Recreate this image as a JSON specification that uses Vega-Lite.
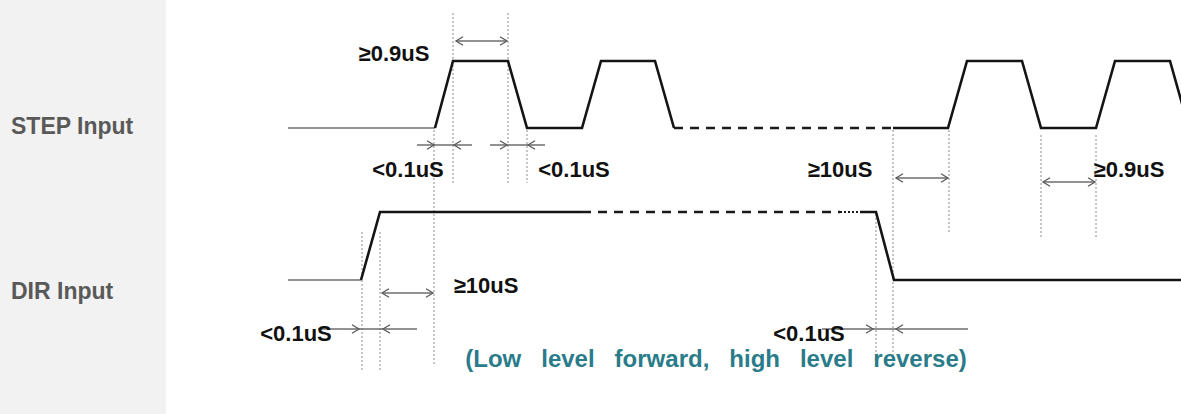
{
  "$schema": "https://vega.github.io/schema/vega-lite/v6.json",
  "width": 1181,
  "height": 414,
  "autosize": "none",
  "padding": 0,
  "background": "white",
  "config": {"view": {"stroke": null}},
  "datasets": {
    "panel": [{"x": 0, "x2": 166, "y": 0, "y2": 414}],
    "wave": [
      {"seg": "s1", "o": 1, "x": 435, "y": 128},
      {"seg": "s1", "o": 2, "x": 453, "y": 61},
      {"seg": "s1", "o": 3, "x": 508, "y": 61},
      {"seg": "s1", "o": 4, "x": 527, "y": 128},
      {"seg": "s1", "o": 5, "x": 582, "y": 128},
      {"seg": "s1", "o": 6, "x": 601, "y": 61},
      {"seg": "s1", "o": 7, "x": 655, "y": 61},
      {"seg": "s1", "o": 8, "x": 674, "y": 128},
      {"seg": "s2", "o": 1, "x": 893, "y": 128},
      {"seg": "s2", "o": 2, "x": 948, "y": 128},
      {"seg": "s2", "o": 3, "x": 967, "y": 61},
      {"seg": "s2", "o": 4, "x": 1022, "y": 61},
      {"seg": "s2", "o": 5, "x": 1041, "y": 128},
      {"seg": "s2", "o": 6, "x": 1096, "y": 128},
      {"seg": "s2", "o": 7, "x": 1115, "y": 61},
      {"seg": "s2", "o": 8, "x": 1170, "y": 61},
      {"seg": "s2", "o": 9, "x": 1183, "y": 107},
      {"seg": "d1", "o": 1, "x": 361, "y": 280},
      {"seg": "d1", "o": 2, "x": 380, "y": 212},
      {"seg": "d1", "o": 3, "x": 582, "y": 212},
      {"seg": "d2", "o": 1, "x": 860, "y": 212},
      {"seg": "d2", "o": 2, "x": 876, "y": 212},
      {"seg": "d2", "o": 3, "x": 894, "y": 280},
      {"seg": "d2", "o": 4, "x": 1181, "y": 280}
    ],
    "leads": [
      {"seg": "a", "x": 288, "y": 128},
      {"seg": "a", "x": 435, "y": 128},
      {"seg": "b", "x": 288, "y": 280},
      {"seg": "b", "x": 361, "y": 280}
    ],
    "dashes": [
      {"seg": "a", "x": 674, "y": 128},
      {"seg": "a", "x": 893, "y": 128},
      {"seg": "b", "x": 582, "y": 212},
      {"seg": "b", "x": 840, "y": 212}
    ],
    "dots": [
      {"seg": "a", "x": 840, "y": 212},
      {"seg": "a", "x": 860, "y": 212}
    ],
    "guides": [
      {"x": 453, "y": 13, "y2": 183},
      {"x": 508, "y": 13, "y2": 183},
      {"x": 434, "y": 130, "y2": 365},
      {"x": 527, "y": 130, "y2": 183},
      {"x": 362, "y": 232, "y2": 370},
      {"x": 380, "y": 232, "y2": 370},
      {"x": 893, "y": 130, "y2": 365},
      {"x": 876, "y": 214, "y2": 365},
      {"x": 949, "y": 130, "y2": 233},
      {"x": 1041, "y": 135, "y2": 237},
      {"x": 1096, "y": 135, "y2": 237}
    ],
    "shafts": [
      {"x": 456, "x2": 507, "y": 41},
      {"x": 417, "x2": 472, "y": 145},
      {"x": 490, "x2": 545, "y": 145},
      {"x": 896, "x2": 948, "y": 178},
      {"x": 1043, "x2": 1095, "y": 182},
      {"x": 382, "x2": 433, "y": 293},
      {"x": 318, "x2": 417, "y": 329},
      {"x": 822, "x2": 968, "y": 329}
    ],
    "heads": [
      {"x": 456, "y": 41, "dir": "L"},
      {"x": 507, "y": 41, "dir": "R"},
      {"x": 434, "y": 145, "dir": "R"},
      {"x": 454, "y": 145, "dir": "L"},
      {"x": 507, "y": 145, "dir": "R"},
      {"x": 528, "y": 145, "dir": "L"},
      {"x": 896, "y": 178, "dir": "L"},
      {"x": 948, "y": 178, "dir": "R"},
      {"x": 1043, "y": 182, "dir": "L"},
      {"x": 1095, "y": 182, "dir": "R"},
      {"x": 382, "y": 293, "dir": "L"},
      {"x": 433, "y": 293, "dir": "R"},
      {"x": 359, "y": 329, "dir": "R"},
      {"x": 383, "y": 329, "dir": "L"},
      {"x": 873, "y": 329, "dir": "R"},
      {"x": 896, "y": 329, "dir": "L"}
    ],
    "notes": [
      {"x": 394, "y": 54, "t": "≥0.9uS"},
      {"x": 408, "y": 170, "t": "<0.1uS"},
      {"x": 574, "y": 170, "t": "<0.1uS"},
      {"x": 840, "y": 170, "t": "≥10uS"},
      {"x": 1129, "y": 170, "t": "≥0.9uS"},
      {"x": 486, "y": 286, "t": "≥10uS"},
      {"x": 296, "y": 334, "t": "<0.1uS"},
      {"x": 809, "y": 334, "t": "<0.1uS"}
    ],
    "labels": [
      {"x": 11, "y": 127, "t": "STEP Input"},
      {"x": 11, "y": 292, "t": "DIR Input"}
    ],
    "caption": [
      {"x": 716, "y": 360, "t": "(Low\u00a0\u00a0 level\u00a0\u00a0 forward,\u00a0\u00a0 high\u00a0\u00a0 level\u00a0\u00a0 reverse)"}
    ]
  },
  "encoding": {
    "x": {"field": "x", "type": "quantitative", "scale": {"domain": [0, 1181], "nice": false, "zero": false}, "axis": null},
    "y": {"field": "y", "type": "quantitative", "scale": {"domain": [0, 414], "nice": false, "zero": false, "reverse": true}, "axis": null}
  },
  "layer": [
    {
      "data": {"name": "panel"},
      "mark": {"type": "rect", "color": "#f2f2f2"},
      "encoding": {"x2": {"field": "x2"}, "y2": {"field": "y2"}}
    },
    {
      "data": {"name": "guides"},
      "mark": {"type": "rule", "color": "#8c8c8c", "strokeWidth": 1, "strokeDash": [2, 2]},
      "encoding": {"y2": {"field": "y2"}}
    },
    {
      "data": {"name": "leads"},
      "mark": {"type": "line", "color": "#6e6e6e", "strokeWidth": 1.6},
      "encoding": {"detail": {"field": "seg"}}
    },
    {
      "data": {"name": "dashes"},
      "mark": {"type": "line", "color": "#1a1a1a", "strokeWidth": 2.4, "strokeDash": [9, 7]},
      "encoding": {"detail": {"field": "seg"}}
    },
    {
      "data": {"name": "dots"},
      "mark": {"type": "line", "color": "#1a1a1a", "strokeWidth": 2.2, "strokeDash": [2, 2]},
      "encoding": {"detail": {"field": "seg"}}
    },
    {
      "data": {"name": "wave"},
      "mark": {"type": "line", "color": "#141414", "strokeWidth": 2.6, "strokeJoin": "miter"},
      "encoding": {"detail": {"field": "seg"}, "order": {"field": "o"}}
    },
    {
      "data": {"name": "shafts"},
      "mark": {"type": "rule", "color": "#6e6e6e", "strokeWidth": 1.3},
      "encoding": {"x2": {"field": "x2"}}
    },
    {
      "data": {"name": "heads"},
      "mark": {"type": "point", "filled": false, "color": "#5a5a5a", "strokeWidth": 1.3, "size": 196, "opacity": 1},
      "encoding": {
        "shape": {"field": "dir", "type": "nominal", "scale": {"domain": ["L", "R"], "range": ["M1,-0.6L0,0L1,0.6", "M-1,-0.6L0,0L-1,0.6"]}, "legend": null}
      }
    },
    {
      "data": {"name": "notes"},
      "mark": {"type": "text", "font": "Liberation Sans", "fontWeight": "bold", "fontSize": 22, "color": "#111111", "align": "center", "baseline": "middle"},
      "encoding": {"text": {"field": "t"}}
    },
    {
      "data": {"name": "labels"},
      "mark": {"type": "text", "font": "Liberation Sans", "fontWeight": "bold", "fontSize": 23, "color": "#595959", "align": "left", "baseline": "middle"},
      "encoding": {"text": {"field": "t"}}
    },
    {
      "data": {"name": "caption"},
      "mark": {"type": "text", "font": "Liberation Sans", "fontWeight": "bold", "fontSize": 24, "color": "#2a7c8a", "align": "center", "baseline": "middle"},
      "encoding": {"text": {"field": "t"}}
    }
  ]
}
